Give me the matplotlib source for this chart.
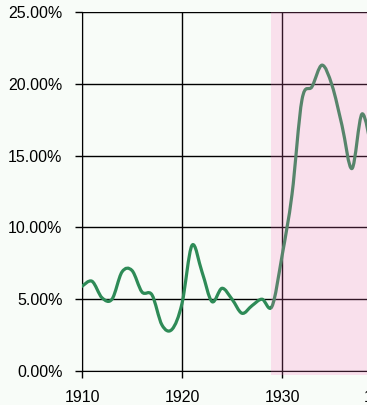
import numpy as np
import matplotlib
matplotlib.use("Agg")
import matplotlib.pyplot as plt
from matplotlib.path import Path
from matplotlib.patches import PathPatch
from matplotlib.ticker import PercentFormatter

# annual values (percent)
years = list(range(1910, 1940))
rate = [5.9, 6.25, 5.1, 5.0, 6.9, 7.0, 5.5, 5.3, 3.2, 2.9,
        4.7, 8.75, 6.9, 4.83, 5.76, 5.0, 4.02, 4.55, 5.0, 4.5,
        8.0, 12.3, 18.9, 19.8, 21.3, 19.9, 17.1, 14.1, 17.9, 15.3]
shade_start = 1928.9
shade_end = 1941
x_ticks = [1910, 1920, 1930, 1940]
y_ticks = [0, 5, 10, 15, 20, 25]

plt.rcParams['font.family'] = ['Liberation Sans', 'DejaVu Sans']

bg = '#f8fcf8'
fig = plt.figure(figsize=(3.67, 4.05), dpi=100, facecolor=bg)
# axes run past the right edge, the picture is cut off there
ax = fig.add_axes([82 / 367, 34 / 405, 300 / 367, 359 / 405])
ax.set_facecolor(bg)

# smooth line through the yearly points (catmull-rom as cubic bezier)
x = np.array(years, dtype=float)
y = np.array(rate, dtype=float)
verts = [(x[0], y[0])]
codes = [Path.MOVETO]
for i in range(len(x) - 1):
    p0 = (x[max(i - 1, 0)], y[max(i - 1, 0)])
    p1 = (x[i], y[i])
    p2 = (x[i + 1], y[i + 1])
    p3 = (x[min(i + 2, len(x) - 1)], y[min(i + 2, len(x) - 1)])
    c1 = (p1[0] + (p2[0] - p0[0]) / 6, p1[1] + (p2[1] - p0[1]) / 6)
    c2 = (p2[0] - (p3[0] - p1[0]) / 6, p2[1] - (p3[1] - p1[1]) / 6)
    verts += [c1, c2, p2]
    codes += [Path.CURVE4] * 3
ax.add_patch(PathPatch(Path(verts, codes), facecolor='none',
                       edgecolor='#2e8b57', lw=2.3, zorder=3,
                       capstyle='round', joinstyle='round'))

ax.set_xlim(1910, 1940)
ax.set_ylim(0, 25)
ax.set_xticks(x_ticks)
ax.set_yticks(y_ticks)
ax.yaxis.set_major_formatter(PercentFormatter(decimals=2))
ax.grid(True, color='black', lw=1, zorder=2)
ax.set_axisbelow(False)

# shaded period drawn on top, tints the grid and the line
ax.axvspan(shade_start, shade_end, ymin=-0.012, ymax=1, color='#ff70c0',
           alpha=0.2, lw=0, zorder=4, clip_on=False)

ax.spines['right'].set_visible(False)
ax.spines['top'].set_color('#c0c0c0')
ax.spines['left'].set_color('black')
ax.spines['bottom'].set_color('black')
ax.tick_params(axis='both', length=5, width=1, color='black',
               labelsize=11.5, labelcolor='black')
ax.tick_params(axis='x', pad=9)
ax.tick_params(axis='y', pad=9)

fig.savefig('out.png', dpi=100, facecolor=bg)
